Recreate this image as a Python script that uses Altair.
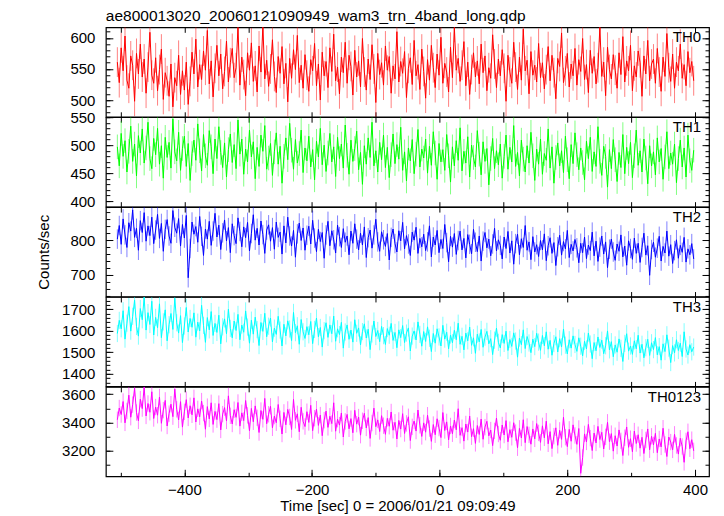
import math
import altair as alt
import pandas as pd

# ---------------- data (3 s bins) ----------------
T_START = -505
T_BIN = 3

th0 = [561, 528, 584, 547, 603, 532, 519, 571, 556, 498, 575, 542, 590, 537, 566, 511, 553, 609, 540, 527,
       568, 515, 549, 582, 501, 544, 531, 506, 558, 489, 536, 523, 572, 509, 547, 516, 561, 493, 530, 577,
       542, 598, 521, 557, 533, 579, 548, 612, 526, 563, 505, 551, 588, 539, 574, 518, 546, 595, 529, 560,
       583, 536, 552, 617, 524, 569, 541, 507, 576, 548, 592, 530, 555, 513, 587, 545, 620, 534, 564, 522,
       550, 597, 538, 512, 570, 543, 586, 526, 559, 497, 567, 535, 581, 549, 604, 528, 556, 519, 573, 540,
       514, 565, 547, 591, 523, 558, 500, 577, 539, 562, 520, 584, 546, 606, 531, 553, 510, 569, 544, 593,
       527, 572, 554, 508, 580, 537, 563, 521, 599, 545, 516, 566, 533, 589, 550, 496, 575, 541, 560, 524,
       587, 548, 570, 511, 555, 534, 610, 529, 562, 543, 578, 504, 551, 568, 525, 596, 539, 557, 517, 582,
       546, 503, 565, 532, 588, 552, 520, 574, 540, 601, 527, 559, 545, 513, 585, 536, 617, 548, 567, 530,
       556, 594, 523, 561, 509, 549, 576, 537, 563, 526, 590, 544, 571, 515, 552, 535, 605, 558, 520, 566,
       539, 581, 551, 498, 572, 545, 527, 593, 553, 517, 569, 532, 614, 547, 564, 510, 578, 540, 556, 529,
       591, 536, 560, 518, 549, 586, 531, 572, 544, 502, 567, 554, 608, 528, 547, 575, 521, 558, 539, 583,
       524, 565, 546, 599, 533, 557, 512, 580, 543, 570, 526, 552, 617, 538, 561, 507, 585, 549, 534, 573,
       548, 519, 576, 541, 602, 529, 563, 547, 588, 515, 555, 537, 579, 560, 506, 571, 542, 596, 531, 558,
       566, 527, 583, 545, 514, 569, 538, 607, 552, 530, 574, 519, 561, 547, 590, 535, 557, 523, 578, 544,
       562, 531]

th1 = [497, 463, 521, 480, 508, 452, 489, 534, 471, 502, 445, 517, 486, 529, 468, 495, 541, 476, 458, 512,
       483, 530, 466, 499, 441, 514, 478, 505, 459, 547, 488, 472, 523, 455, 494, 516, 462, 503, 437, 485,
       509, 473, 538, 490, 454, 519, 481, 464, 526, 497, 449, 511, 476, 533, 487, 460, 504, 443, 492, 520,
       469, 501, 458, 545, 484, 511, 448, 493, 470, 527, 479, 506, 440, 496, 462, 518, 489, 535, 457, 477,
       503, 446, 488, 522, 466, 498, 432, 480, 513, 474, 539, 491, 457, 510, 468, 485, 527, 451, 495, 472,
       516, 461, 492, 438, 507, 479, 530, 465, 500, 453, 486, 521, 470, 497, 444, 514, 476, 502, 459, 536,
       482, 448, 509, 471, 494, 525, 456, 487, 430, 499, 466, 513, 478, 541, 463, 490, 452, 505, 474, 518,
       460, 496, 442, 483, 520, 467, 501, 475, 532, 455, 488, 436, 495, 472, 510, 449, 484, 528, 461, 493,
       477, 511, 450, 498, 464, 524, 486, 439, 503, 470, 492, 455, 519, 481, 434, 497, 463, 508, 473, 531,
       454, 489, 468, 515, 443, 500, 478, 461, 526, 484, 447, 506, 471, 494, 429, 476, 512, 458, 490, 465,
       502, 441, 480, 518, 457, 496, 470, 535, 462, 487, 445, 509, 475, 452, 499, 468, 523, 481, 437, 493,
       466, 511, 448, 485, 473, 529, 459, 497, 432, 478, 504, 463, 490, 451, 516, 474, 440, 501, 467, 522,
       483, 456, 495, 469, 438, 507, 476, 514, 453, 488, 462, 533, 471, 446, 498, 480, 425, 492, 458, 510,
       474, 435, 487, 460, 519, 449, 496, 467, 505, 442, 481, 527, 464, 490, 452, 511, 477, 431, 499, 463,
       488, 447, 513, 470, 494, 439, 479, 524, 458, 486, 466, 502, 433, 476, 509, 461, 495, 443, 518, 472,
       455, 491]

th2 = [803, 842, 788, 861, 815, 779, 850, 826, 887, 808, 834, 771, 856, 822, 879, 797, 841, 813, 866, 790,
       829, 874, 805, 848, 768, 831, 859, 812, 791, 885, 837, 820, 862, 783, 845, 806, 871, 692, 776, 852,
       817, 839, 794, 868, 811, 756, 832, 803, 854, 785, 826, 877, 809, 843, 773, 821, 858, 798, 836, 764,
       847, 813, 790, 864, 825, 781, 838, 807, 851, 769, 819, 873, 800, 834, 786, 855, 816, 762, 829, 844,
       797, 836, 774, 852, 808, 823, 760, 841, 792, 866, 812, 783, 828, 751, 818, 849, 799, 835, 771, 814,
       840, 789, 857, 806, 767, 831, 796, 822, 748, 815, 854, 784, 827, 801, 763, 843, 810, 779, 833, 794,
       812, 758, 826, 791, 847, 803, 772, 820, 786, 838, 750, 807, 829, 777, 815, 860, 795, 768, 824, 801,
       782, 819, 743, 808, 832, 790, 766, 827, 798, 851, 775, 813, 789, 756, 823, 800, 837, 762, 805, 781,
       817, 770, 795, 841, 752, 809, 786, 828, 764, 802, 776, 845, 793, 738, 811, 780, 819, 759, 799, 826,
       772, 805, 749, 816, 788, 761, 831, 794, 767, 812, 740, 797, 822, 778, 803, 755, 789, 834, 769, 801,
       785, 746, 809, 776, 825, 763, 798, 731, 790, 817, 758, 804, 779, 842, 771, 795, 744, 810, 766, 787,
       753, 799, 772, 818, 741, 784, 807, 762, 793, 727, 781, 814, 757, 796, 775, 828, 750, 788, 769, 802,
       778, 735, 791, 764, 809, 747, 786, 770, 823, 755, 797, 739, 780, 812, 760, 795, 721, 774, 803, 766,
       742, 789, 768, 815, 752, 783, 728, 798, 776, 745, 806, 762, 791, 736, 779, 820, 757, 784, 699, 773,
       794, 751, 777, 811, 740, 782, 763, 826, 754, 787, 733, 770, 801, 748, 785, 765, 808, 737, 775, 758,
       790, 746]

th3 = [1587, 1648, 1609, 1693, 1561, 1635, 1712, 1598, 1667, 1742, 1620, 1575, 1703, 1651, 1756, 1603, 1684, 1629, 1737, 1580,
       1662, 1614, 1725, 1568, 1641, 1697, 1553, 1628, 1680, 1606, 1751, 1637, 1589, 1670, 1545, 1622, 1708, 1594, 1657, 1616,
       1683, 1570, 1640, 1599, 1718, 1625, 1546, 1661, 1604, 1689, 1578, 1634, 1592, 1672, 1539, 1618, 1655, 1586, 1700, 1611,
       1567, 1645, 1601, 1676, 1558, 1626, 1593, 1692, 1617, 1542, 1649, 1584, 1663, 1605, 1531, 1638, 1597, 1681, 1572, 1621,
       1659, 1548, 1612, 1583, 1667, 1603, 1529, 1630, 1576, 1646, 1608, 1554, 1685, 1591, 1623, 1537, 1652, 1595, 1564, 1619,
       1581, 1643, 1540, 1606, 1659, 1572, 1615, 1524, 1600, 1637, 1569, 1627, 1586, 1668, 1551, 1609, 1582, 1639, 1519, 1594,
       1627, 1560, 1603, 1547, 1651, 1588, 1613, 1534, 1596, 1632, 1566, 1607, 1512, 1585, 1645, 1573, 1601, 1549, 1620, 1577,
       1536, 1610, 1579, 1634, 1555, 1592, 1521, 1604, 1568, 1624, 1545, 1589, 1613, 1506, 1575, 1599, 1557, 1641, 1583, 1528,
       1596, 1550, 1618, 1565, 1503, 1587, 1542, 1609, 1571, 1529, 1625, 1561, 1593, 1516, 1580, 1544, 1602, 1558, 1635, 1537,
       1574, 1511, 1589, 1553, 1617, 1532, 1567, 1495, 1584, 1548, 1606, 1523, 1570, 1597, 1539, 1563, 1489, 1556, 1612, 1546,
       1520, 1582, 1541, 1598, 1508, 1559, 1527, 1590, 1552, 1477, 1566, 1535, 1604, 1517, 1573, 1543, 1498, 1561, 1526, 1588,
       1547, 1509, 1578, 1530, 1595, 1514, 1555, 1486, 1540, 1572, 1501, 1563, 1525, 1608, 1533, 1492, 1558, 1519, 1576, 1536,
       1504, 1567, 1528, 1483, 1551, 1515, 1589, 1538, 1470, 1545, 1507, 1571, 1522, 1556, 1493, 1530, 1599, 1511, 1549, 1479,
       1534, 1500, 1562, 1518, 1457, 1541, 1586, 1505, 1529, 1490, 1553, 1516, 1579, 1496, 1537, 1474, 1521, 1560, 1485, 1544,
       1512, 1568, 1488, 1526, 1463, 1539, 1503, 1581, 1519, 1452, 1531, 1497, 1558, 1508, 1542, 1480, 1595, 1515, 1487, 1535,
       1502, 1524]

th0123 = [3419, 3502, 3456, 3548, 3397, 3481, 3593, 3437, 3526, 3642, 3470, 3411, 3565, 3498, 3650, 3446, 3534, 3472, 3617, 3428,
          3509, 3451, 3580, 3394, 3487, 3556, 3375, 3462, 3529, 3441, 3636, 3493, 3418, 3547, 3367, 3475, 3561, 3432, 3518, 3454,
          3574, 3403, 3496, 3440, 3551, 3466, 3352, 3512, 3425, 3539, 3386, 3478, 3420, 3533, 3347, 3459, 3505, 3411, 3588, 3447,
          3389, 3490, 3436, 3541, 3374, 3468, 3413, 3555, 3450, 3341, 3499, 3405, 3517, 3433, 3329, 3484, 3422, 3570, 3391, 3458,
          3514, 3362, 3445, 3398, 3527, 3426, 3318, 3471, 3383, 3492, 3439, 3350, 3563, 3415, 3461, 3334, 3507, 3408, 3371, 3476,
          3400, 3521, 3342, 3430, 3494, 3379, 3452, 3306, 3416, 3480, 3365, 3444, 3392, 3539, 3338, 3423, 3381, 3467, 3297, 3407,
          3457, 3355, 3427, 3327, 3486, 3388, 3438, 3310, 3412, 3465, 3361, 3434, 3287, 3396, 3501, 3370, 3418, 3336, 3448, 3377,
          3316, 3429, 3373, 3474, 3345, 3401, 3283, 3414, 3353, 3462, 3322, 3393, 3440, 3272, 3369, 3410, 3339, 3488, 3380, 3301,
          3397, 3331, 3451, 3357, 3266, 3385, 3313, 3426, 3360, 3293, 3470, 3343, 3404, 3277, 3375, 3320, 3417, 3348, 3497, 3309,
          3363, 3268, 3389, 3332, 3445, 3299, 3356, 3252, 3378, 3315, 3424, 3281, 3367, 3408, 3305, 3346, 3236, 3340, 3431, 3318,
          3274, 3382, 3311, 3413, 3263, 3349, 3295, 3398, 3328, 3221, 3358, 3290, 3419, 3257, 3371, 3312, 3246, 3354, 3284, 3392,
          3326, 3259, 3376, 3291, 3409, 3249, 3335, 3215, 3303, 3362, 3238, 3344, 3280, 3437, 3296, 3229, 3351, 3267, 3383, 3308,
          3245, 3357, 3040, 3152, 3319, 3262, 3386, 3289, 3201, 3325, 3255, 3372, 3279, 3330, 3212, 3298, 3401, 3264, 3321, 3197,
          3306, 3233, 3347, 3270, 3166, 3292, 3368, 3224, 3285, 3193, 3339, 3251, 3313, 3218, 3295, 3180, 3276, 3354, 3207, 3302,
          3241, 3323, 3186, 3283, 3227, 3359, 3244, 3159, 3297, 3261, 3206, 3316, 3237, 3176, 3288, 3230, 3118, 3269, 3334, 3214,
          3278, 3199]

series = [th0, th1, th2, th3, th0123]
names = ["TH0", "TH1", "TH2", "TH3", "TH0123"]
colors = ["#ff0000", "#00ff00", "#0000ff", "#00ffff", "#ff00ff"]
errors = [24, 22, 28, 40, 58]
y_domains = [[473, 617], [390, 550], [638, 895], [1341, 1757], [3019, 3652]]
y_major = [[500, 550, 600], [400, 450, 500, 550], [700, 800], [1400, 1500, 1600, 1700], [3200, 3400, 3600]]
y_minor_step = [10, 10, 20, 20, 100]
x_domain = [-523, 422]
x_ticks = [-500, -400, -300, -200, -100, 0, 100, 200, 300, 400]
x_labels = [-400, -200, 0, 200, 400]

TITLE = "ae800013020_20060121090949_wam3_trn_4band_long.qdp"
XTITLE = "Time [sec] 0 = 2006/01/21 09:09:49"
YTITLE = "Counts/sec"

FONT = "Liberation Sans"
FS = 15
W = 604
H = 89.6


def minor_values(dom, step):
    lo = math.ceil(dom[0] / step) * step
    return list(range(lo, int(dom[1]) + 1, step))


def ax(**kw):
    base = dict(domain=False, grid=False, tickColor="black", tickWidth=1,
                labelFont=FONT, labelFontSize=FS, labelColor="black",
                labelOverlap=False, format="d", titleFont=FONT, titleFontSize=FS,
                titleFontWeight="normal", titleColor="black")
    base.update(kw)
    return alt.Axis(**base)


def panel(k):
    last = k == len(series) - 1
    vals = series[k]
    times = [T_START + T_BIN * i for i in range(len(vals))]
    df = pd.DataFrame({"t": times, "rate": vals})
    df["lo"] = df["rate"] - errors[k]
    df["hi"] = df["rate"] + errors[k]
    xs = alt.Scale(domain=x_domain, nice=False, zero=False)
    ys = alt.Scale(domain=y_domains[k], nice=False, zero=False)
    minors = minor_values(y_domains[k], y_minor_step[k])

    y_left_major = ax(orient="left", values=y_major[k], offset=-7, tickSize=7,
                      labelPadding=11,
                      title=YTITLE if k == 2 else None, titlePadding=18)
    y_left_minor = ax(orient="left", values=minors, offset=-4, tickSize=4,
                      labels=False, title=None)
    y_right_major = ax(orient="right", values=y_major[k], offset=-7, tickSize=7,
                       labels=False, title=None)
    y_right_minor = ax(orient="right", values=minors, offset=-4, tickSize=4,
                       labels=False, title=None)

    if last:
        x_bottom = ax(orient="bottom", values=x_labels, offset=-7, tickSize=7,
                      labels=True, labelPadding=6, labelFlush=False,
                      title=XTITLE, titlePadding=1, titleX=292)
        x_bottom_minor = ax(orient="bottom", values=x_ticks, offset=-4, tickSize=4,
                            labels=False, title=None)
    else:
        x_bottom = ax(orient="bottom", values=x_ticks, offset=-5, tickSize=5,
                      labels=False, title=None)
        x_bottom_minor = None
    x_top = ax(orient="top", values=x_ticks, offset=-5, tickSize=5,
               labels=False, title=None)

    base = alt.Chart(df)
    err = base.mark_rule(color=colors[k], opacity=0.5, strokeWidth=1, clip=True).encode(
        x=alt.X("t:Q", scale=xs, axis=x_bottom),
        y=alt.Y("lo:Q", scale=ys, axis=y_left_major),
        y2="hi:Q",
    )
    line = base.mark_line(color=colors[k], strokeWidth=1, clip=True).encode(
        x=alt.X("t:Q", scale=xs, axis=x_top),
        y=alt.Y("rate:Q", scale=ys, axis=y_left_minor),
    )
    ghost1 = base.mark_line(opacity=0, clip=True).encode(
        x=alt.X("t:Q", scale=xs, axis=x_bottom_minor),
        y=alt.Y("rate:Q", scale=ys, axis=y_right_major),
    )
    ghost2 = base.mark_line(opacity=0, clip=True).encode(
        x=alt.X("t:Q", scale=xs, axis=None),
        y=alt.Y("rate:Q", scale=ys, axis=y_right_minor),
    )
    label = alt.Chart(pd.DataFrame({"name": [names[k]]})).mark_text(
        align="right", baseline="alphabetic", font=FONT, fontSize=FS, color="black"
    ).encode(x=alt.value(W - 8), y=alt.value(15), text="name:N")

    layer = alt.layer(err, line, ghost1, ghost2, label).resolve_scale(
        x="independent", y="independent"
    ).properties(width=W, height=H)
    if k == 0:
        layer = layer.properties(title=alt.TitleParams(
            text=TITLE, anchor="start", frame="group", font=FONT, fontSize=15.5,
            fontWeight="normal", color="black", offset=2))
    return layer


chart = alt.vconcat(*[panel(k) for k in range(len(series))], spacing=0, bounds="flush").properties(
    padding={"left": 28, "top": 0, "right": 5, "bottom": 0},
    background="white",
).configure_view(stroke="black", strokeWidth=1.2)

chart.save("out.html", embed_options={"renderer": "svg", "actions": False})
